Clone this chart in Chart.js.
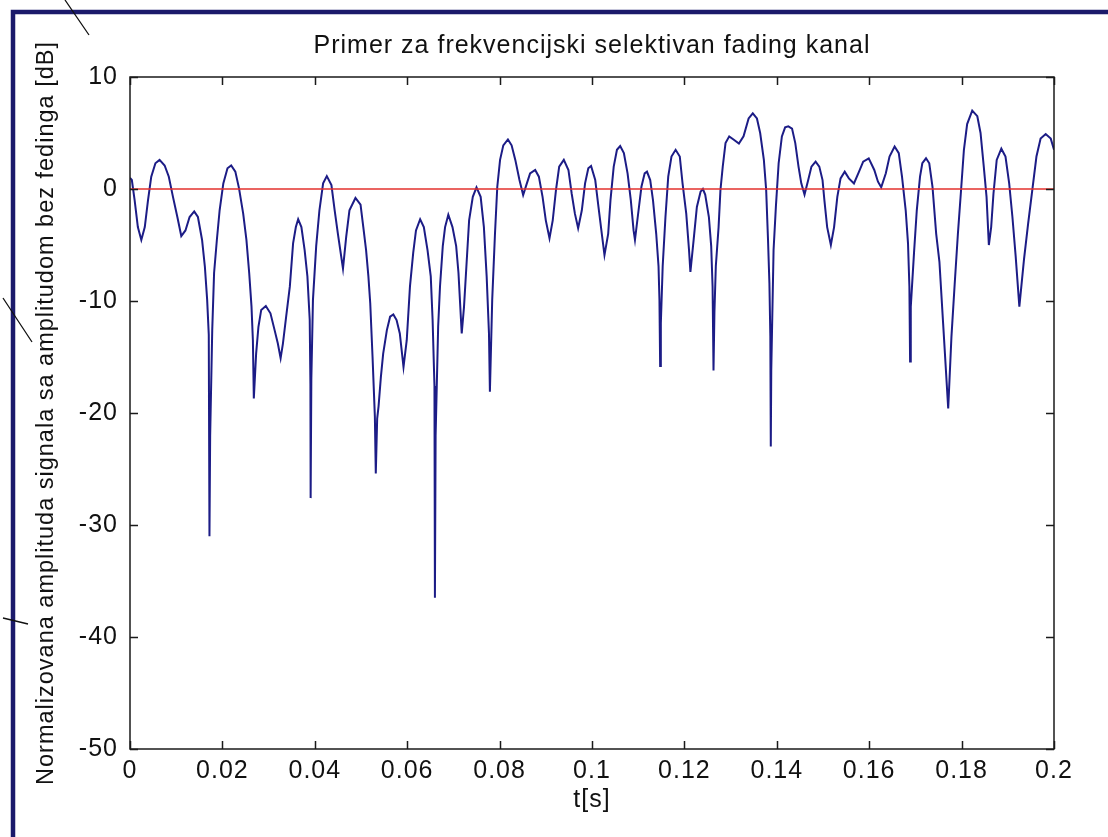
<!DOCTYPE html>
<html>
<head>
<meta charset="utf-8">
<title>Primer za frekvencijski selektivan fading kanal</title>
<script src="https://cdn.jsdelivr.net/npm/chart.js@4.4.1/dist/chart.umd.min.js"></script>
<style>
  html, body { margin: 0; padding: 0; background: #fff; }
  #chart { display: block; }
</style>
</head>
<body>
<canvas id="chart" width="1108" height="837"></canvas>
<script>
// vrijeme [s] i normalizovana amplituda [dB], ocitano sa slike
const timeS = [
  0, 0.0004, 0.0010, 0.0017, 0.00245, 0.0032, 0.0039, 0.0046, 0.0055, 0.0064,
  0.0075, 0.0084, 0.0093, 0.01025, 0.0111, 0.0120, 0.0129, 0.0139, 0.0147, 0.0156,
  0.0162, 0.0167, 0.01705, 0.0172, 0.01735, 0.0178, 0.0182, 0.0188, 0.0194, 0.0202,
  0.0211, 0.0219, 0.0228, 0.0236, 0.0245, 0.0252, 0.0258, 0.0263, 0.0266, 0.0268,
  0.0273, 0.0278, 0.0284, 0.0294, 0.0304, 0.0313, 0.0320, 0.0326, 0.0331, 0.0338,
  0.0346, 0.0353, 0.0359, 0.0364, 0.0371, 0.0378, 0.0384, 0.0389, 0.03905, 0.0391,
  0.03925, 0.0396, 0.0403, 0.0410, 0.0418, 0.0426, 0.0436, 0.0443, 0.0450, 0.0461,
  0.0468, 0.0475, 0.0488, 0.0499, 0.0505, 0.0511, 0.0516, 0.0520, 0.0525, 0.0530,
  0.0532, 0.0535, 0.0538, 0.0543, 0.0548, 0.0556, 0.0563, 0.0570, 0.0577, 0.0584,
  0.0592, 0.0599, 0.0606, 0.0613, 0.0619, 0.0628, 0.0636, 0.0644, 0.0651, 0.0655,
  0.0659, 0.0660, 0.06615, 0.0667, 0.0671, 0.0677, 0.0682, 0.0689, 0.0698, 0.0706,
  0.0711, 0.0718, 0.0723, 0.0729, 0.0734, 0.0742, 0.0750, 0.0759, 0.0766, 0.0772,
  0.0777, 0.0779, 0.0784, 0.0790, 0.0795, 0.0801, 0.0808, 0.0818, 0.0826, 0.0834,
  0.0843, 0.0851, 0.0859, 0.0866, 0.0877, 0.0885, 0.0893, 0.0900, 0.0908, 0.0915,
  0.0922, 0.0929, 0.0939, 0.0949, 0.0956, 0.0963, 0.0970, 0.0978, 0.0985, 0.0992,
  0.0998, 0.1007, 0.1014, 0.1022, 0.1027, 0.1035, 0.1040, 0.1047, 0.1054, 0.1061,
  0.1069, 0.1077, 0.1084, 0.1090, 0.1093, 0.1099, 0.1107, 0.1114, 0.1119, 0.1126,
  0.1132, 0.1139, 0.1144, 0.1146, 0.11475, 0.1149, 0.1153, 0.1159, 0.1165, 0.1172,
  0.1181, 0.1190, 0.1196, 0.1204, 0.1210, 0.1213, 0.1220, 0.1227, 0.1235, 0.1240,
  0.1245, 0.1253, 0.1258, 0.1261, 0.1263, 0.1265, 0.1268, 0.1274, 0.1278, 0.1283,
  0.1289, 0.1297, 0.1307, 0.1318, 0.1328, 0.1339, 0.1348, 0.1357, 0.1364, 0.1372,
  0.1377, 0.1381, 0.1384, 0.1386, 0.1387, 0.1388, 0.1393, 0.1398, 0.1404, 0.1411,
  0.1418, 0.1425, 0.1433, 0.1440, 0.1447, 0.1453, 0.1460, 0.1468, 0.1475, 0.1484,
  0.1492, 0.1499, 0.1503, 0.1509, 0.1517, 0.1524, 0.1531, 0.1538, 0.1547, 0.1556,
  0.1567, 0.1578, 0.1587, 0.1599, 0.1611, 0.1619, 0.1626, 0.1636, 0.1644, 0.1655,
  0.1664, 0.1671, 0.1679, 0.1684, 0.1687, 0.16885, 0.1690, 0.1697, 0.1703, 0.1710,
  0.1715, 0.1723, 0.1730, 0.1737, 0.1745, 0.1752, 0.1760, 0.1771, 0.1778, 0.1785,
  0.1792, 0.1799, 0.1805, 0.1812, 0.1823, 0.1834, 0.1841, 0.1848, 0.1854, 0.1859,
  0.1864, 0.1869, 0.1876, 0.1886, 0.1895, 0.1903, 0.1910, 0.1917, 0.1925, 0.1935,
  0.1944, 0.1953, 0.1962, 0.1971, 0.1982, 0.1993, 0.2000
];
const signalDb = [
  1.0, 0.8, -1.0, -3.4, -4.55, -3.4, -1.0, 1.1, 2.3, 2.6,
  2.1, 1.1, -0.7, -2.5, -4.2, -3.7, -2.5, -2.0, -2.5, -4.55,
  -6.9, -9.9, -13.0, -31.0, -22.0, -12.6, -7.5, -4.55, -1.9, 0.5,
  1.85, 2.1, 1.55, 0.06, -2.2, -4.55, -7.5, -10.5, -13.5, -18.7,
  -14.7, -12.3, -10.8, -10.45, -11.1, -12.6, -13.8, -15.1, -13.8, -11.4,
  -8.7, -4.85, -3.4, -2.7, -3.4, -5.45, -7.8, -11.7, -17.4, -27.6,
  -17.0, -9.9, -5.1, -1.9, 0.5, 1.15, 0.35, -1.9, -4.0, -7.1,
  -4.25, -1.9, -0.8, -1.4, -3.4, -5.45, -7.8, -10.2, -15.0, -20.3,
  -25.4, -20.5, -19.4, -16.8, -14.7, -12.6, -11.4, -11.2, -11.7, -12.9,
  -15.9, -13.5, -8.7, -5.7, -3.7, -2.7, -3.4, -5.45, -7.8, -11.7,
  -17.6, -36.5, -22.0, -12.3, -8.7, -5.1, -3.4, -2.3, -3.4, -5.1,
  -7.5, -12.9, -10.5, -6.3, -2.8, -0.7, 0.15, -0.7, -3.4, -7.8,
  -12.9, -18.1, -9.9, -4.0, 0.2, 2.6, 3.9, 4.43, 3.9, 2.6,
  0.8, -0.54, 0.5, 1.4, 1.7, 1.1, -0.7, -2.8, -4.4, -2.8,
  -0.1, 2.0, 2.6, 1.7, -0.4, -2.2, -3.5, -1.9, 0.5, 1.85,
  2.05, 0.8, -1.6, -4.25, -5.9, -4.0, -1.0, 2.0, 3.5, 3.84,
  3.2, 1.4, -1.0, -3.7, -4.55, -2.5, 0.2, 1.4, 1.55, 0.8,
  -1.0, -4.0, -6.9, -9.9, -15.8, -12.0, -6.9, -2.5, 1.1, 2.9,
  3.5, 2.9, 0.5, -2.2, -5.45, -7.4, -4.55, -1.6, -0.24, 0.0,
  -0.5, -2.5, -5.1, -8.7, -16.2, -11.0, -6.9, -3.4, -0.1, 2.0,
  4.1, 4.7, 4.4, 4.05, 4.7, 6.3, 6.76, 6.3, 5.0, 2.6,
  -0.1, -4.55, -8.4, -13.2, -23.0, -16.2, -5.45, -1.6, 2.3, 4.7,
  5.5, 5.6, 5.4, 4.1, 2.0, 0.5, -0.5, 0.8, 2.0, 2.44,
  2.0, 0.8, -1.0, -3.4, -5.0, -3.4, -0.7, 0.95, 1.55, 0.95,
  0.5, 1.55, 2.44, 2.74, 1.7, 0.65, 0.15, 1.4, 2.9, 3.8,
  3.2, 1.1, -1.9, -4.85, -8.7, -15.4, -10.5, -5.7, -1.9, 1.1,
  2.3, 2.74, 2.3, 0.2, -4.0, -6.5, -12.0, -19.6, -13.2, -8.5,
  -4.0, 0.0, 3.5, 5.8, 7.0, 6.5, 5.0, 2.0, -0.7, -5.0,
  -3.4, -0.4, 2.6, 3.6, 2.9, 0.5, -2.5, -6.0, -10.5, -6.3,
  -3.1, -0.1, 2.9, 4.5, 4.9, 4.5, 3.5
];
// referentni nivo bez fedinga
const refTimeS = [0, 0.2];
const refDb = [0, 0];

const xTicks = [0, 0.02, 0.04, 0.06, 0.08, 0.1, 0.12, 0.14, 0.16, 0.18, 0.2];
const xTickLabels = ['0', '0.02', '0.04', '0.06', '0.08', '0.1', '0.12', '0.14', '0.16', '0.18', '0.2'];
const yTicks = [-50, -40, -30, -20, -10, 0, 10];
const yTickLabels = ['-50', '-40', '-30', '-20', '-10', '0', '10'];

const FONT = "'Liberation Sans', Arial, Helvetica, sans-serif";

// pozadina, okvir slike i linije sa originalnog snimka
const backdrop = {
  id: 'backdrop',
  beforeDraw(chart) {
    const { ctx, width, height } = chart;
    ctx.save();
    ctx.fillStyle = '#fff';
    ctx.fillRect(0, 0, width, height);
    ctx.strokeStyle = '#1b1a6b';
    ctx.lineWidth = 4.5;
    ctx.strokeRect(13, 12, width + 20, height + 20);
    ctx.strokeStyle = '#111';
    ctx.lineWidth = 1.3;
    ctx.beginPath();
    ctx.moveTo(65, 0); ctx.lineTo(89, 35);
    ctx.moveTo(3, 298); ctx.lineTo(32, 342);
    ctx.moveTo(3, 618); ctx.lineTo(28, 624);
    ctx.stroke();
    ctx.restore();
    // MATLAB font je malo razmaknutiji
    ctx.letterSpacing = '1px';
  }
};

// MATLAB stil: okvir oko grafika i crtice okrenute unutra na sve 4 strane
const boxTicks = {
  id: 'boxTicks',
  afterDraw(chart) {
    const { ctx, chartArea: a, scales: { x, y } } = chart;
    const len = 8;
    ctx.save();
    ctx.strokeStyle = '#1a1a1a';
    ctx.lineWidth = 1.5;
    ctx.strokeRect(a.left, a.top, a.right - a.left, a.bottom - a.top);
    ctx.beginPath();
    x.ticks.forEach(t => {
      const px = Math.round(x.getPixelForValue(t.value)) + 0.5;
      ctx.moveTo(px, a.bottom); ctx.lineTo(px, a.bottom - len);
      ctx.moveTo(px, a.top); ctx.lineTo(px, a.top + len);
    });
    y.ticks.forEach(t => {
      const py = Math.round(y.getPixelForValue(t.value)) + 0.5;
      ctx.moveTo(a.left, py); ctx.lineTo(a.left + len, py);
      ctx.moveTo(a.right, py); ctx.lineTo(a.right - len, py);
    });
    ctx.stroke();
    ctx.restore();
  }
};

new Chart(document.getElementById('chart'), {
  type: 'line',
  data: {
    datasets: [
      {
        label: 'bez fedinga',
        data: refTimeS.map((t, i) => ({ x: t, y: refDb[i] })),
        borderColor: '#e3302c',
        borderWidth: 1.6,
        pointRadius: 0,
        tension: 0
      },
      {
        label: 'signal',
        data: timeS.map((t, i) => ({ x: t, y: signalDb[i] })),
        borderColor: '#1c1c86',
        borderWidth: 2,
        pointRadius: 0,
        tension: 0
      }
    ]
  },
  options: {
    responsive: false,
    animation: false,
    events: [],
    layout: { padding: { top: 0, right: 54, bottom: 0, left: 0 } },
    plugins: {
      legend: { display: false },
      tooltip: { enabled: false },
      title: {
        display: true,
        text: 'Primer za frekvencijski selektivan fading kanal',
        fullSize: false,
        color: '#111',
        font: { family: FONT, size: 25, weight: 'normal', lineHeight: 1.2 },
        padding: { top: 31, bottom: 16 }
      }
    },
    scales: {
      x: {
        type: 'linear',
        min: 0,
        max: 0.2,
        grid: { display: false, drawTicks: false },
        border: { display: false },
        afterBuildTicks: s => { s.ticks = xTicks.map(v => ({ value: v })); },
        afterFit: s => { s.height = 88; },
        ticks: {
          padding: 7,
          color: '#111',
          maxRotation: 0,
          autoSkip: false,
          font: { family: FONT, size: 25 },
          callback: (v, i) => xTickLabels[i]
        },
        title: {
          display: true,
          text: 't[s]',
          color: '#111',
          font: { family: FONT, size: 25, lineHeight: 1.2 },
          padding: { top: 0, bottom: 22 }
        }
      },
      y: {
        type: 'linear',
        min: -50,
        max: 10,
        grid: { display: false, drawTicks: false },
        border: { display: false },
        afterBuildTicks: s => { s.ticks = yTicks.map(v => ({ value: v })); },
        afterFit: s => { s.width = 130; },
        ticks: {
          padding: 12,
          color: '#111',
          autoSkip: false,
          font: { family: FONT, size: 25 },
          callback: (v, i) => yTickLabels[i]
        },
        title: {
          display: true,
          text: 'Normalizovana amplituda signala sa amplitudom bez fedinga [dB]',
          color: '#111',
          font: { family: FONT, size: 23.5, lineHeight: 1.2 },
          padding: { top: 32, bottom: 0 }
        }
      }
    }
  },
  plugins: [backdrop, boxTicks]
});
</script>
</body>
</html>
